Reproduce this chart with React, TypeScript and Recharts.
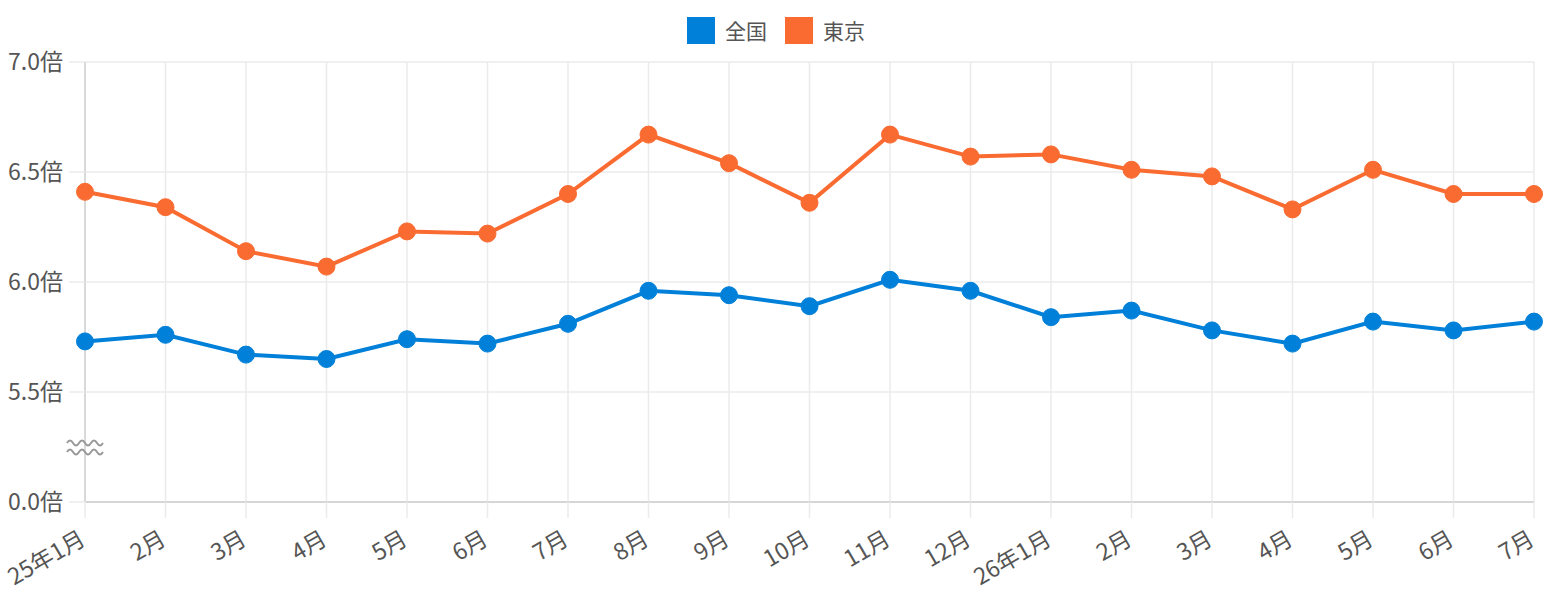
import React from 'react';
import { LineChart, Line, XAxis, YAxis, CartesianGrid, Legend, ReferenceDot } from 'recharts';

const months = [
  '25年1月', '2月', '3月', '4月', '5月', '6月', '7月', '8月', '9月', '10月',
  '11月', '12月', '26年1月', '2月', '3月', '4月', '5月', '6月', '7月',
];

const national = [5.73, 5.76, 5.67, 5.65, 5.74, 5.72, 5.81, 5.96, 5.94, 5.89, 6.01, 5.96, 5.84, 5.87, 5.78, 5.72, 5.82, 5.78, 5.82];
const tokyo = [6.41, 6.34, 6.14, 6.07, 6.23, 6.22, 6.40, 6.67, 6.54, 6.36, 6.67, 6.57, 6.58, 6.51, 6.48, 6.33, 6.51, 6.40, 6.40];

// axis is broken: the bottom tick stands for 0.0
const yTicks = [5, 5.5, 6, 6.5, 7];
const yTickLabels = ['0.0倍', '5.5倍', '6.0倍', '6.5倍', '7.0倍'];
const breakAt = 5.25;

const BLUE = '#0080D8';
const ORANGE = '#FA6B31';
const TEXT = '#555555';
const FONT = '"Noto Sans CJK JP", "Noto Sans", sans-serif';

const chartData = months.map((m, i) => ({
  key: i,
  month: m,
  national: national[i],
  tokyo: tokyo[i],
}));

const XTick = ({ x, y, payload }: any) => (
  <g transform={`translate(${x - 7},${y + 8})`}>
    <text x={0} y={0} dy={18} textAnchor="end" transform="rotate(-30)" fill={TEXT} fontSize={23} fontFamily={FONT}>
      {months[payload.value]}
    </text>
  </g>
);

const LegendContent = ({ payload }: any) => (
  <div style={{ display: 'flex', justifyContent: 'center', height: 50, alignItems: 'flex-start', fontFamily: FONT, paddingLeft: 18 }}>
    {(payload || []).map((p: any, i: number) => (
      <div key={p.value} style={{ display: 'flex', alignItems: 'center', marginLeft: i === 0 ? 0 : 18, paddingTop: 5 }}>
        <span
          style={{
            width: 26,
            height: 25,
            background: p.color,
            border: `1.5px solid ${p.color}99`,
            marginRight: 10,
            display: 'inline-block',
          }}
        />
        <span style={{ color: TEXT, fontSize: 21, lineHeight: '27px' }}>{p.value}</span>
      </div>
    ))}
  </div>
);

const BreakMark = ({ cx, cy }: any) => {
  const wave = (yy: number) => {
    let d = `M ${cx - 18} ${yy}`;
    for (let k = 0; k < 6; k++) d += ` q 3 ${k % 2 === 0 ? -5 : 5} 6 0`;
    return d;
  };
  return (
    <g>
      <path d={wave(cy - 4)} stroke="#999" strokeWidth={2} fill="none" />
      <path d={wave(cy + 5)} stroke="#999" strokeWidth={2} fill="none" />
    </g>
  );
};

export default function App() {
  return (
    <div style={{ position: 'absolute', left: 0, top: 0, background: '#fff' }}>
      <LineChart width={1556} height={600} data={chartData} margin={{ top: 12, right: 22, left: 0, bottom: 8 }}>
        <CartesianGrid stroke="#ebebeb" strokeWidth={1.5} />
        <XAxis
          dataKey="key"
          interval={0}
          height={90}
          tickSize={16}
          tickLine={{ stroke: '#ebebeb', strokeWidth: 1.5 }}
          axisLine={{ stroke: '#d6d6d6', strokeWidth: 2 }}
          tick={<XTick />}
        />
        <YAxis
          width={85}
          domain={[5, 7]}
          ticks={yTicks}
          interval={0}
          tickSize={16}
          tickMargin={6}
          tickLine={{ stroke: '#ebebeb', strokeWidth: 1.5 }}
          axisLine={{ stroke: '#d9d9d9', strokeWidth: 2 }}
          tick={{ fill: TEXT, fontSize: 23, fontFamily: FONT }}
          tickFormatter={(v: number) => yTickLabels[yTicks.indexOf(v)]}
        />
        <Legend verticalAlign="top" content={<LegendContent />} />
        <ReferenceDot x={0} y={breakAt} shape={<BreakMark />} />
        <Line
          name="全国"
          dataKey="national"
          stroke={BLUE}
          strokeWidth={4}
          dot={{ r: 8.5, fill: BLUE, stroke: BLUE, strokeWidth: 1 }}
          isAnimationActive={false}
        />
        <Line
          name="東京"
          dataKey="tokyo"
          stroke={ORANGE}
          strokeWidth={4}
          dot={{ r: 8.5, fill: ORANGE, stroke: ORANGE, strokeWidth: 1 }}
          isAnimationActive={false}
        />
      </LineChart>
    </div>
  );
}
